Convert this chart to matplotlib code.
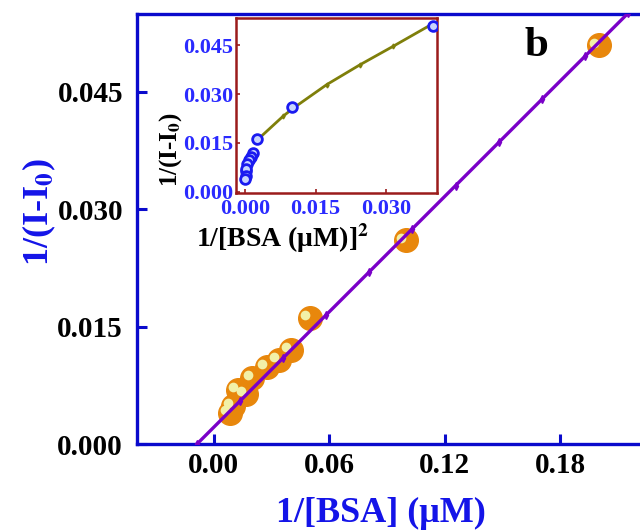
import numpy as np
import matplotlib
matplotlib.use("Agg")
import matplotlib.pyplot as plt
from matplotlib.transforms import offset_copy

plt.rcParams["font.family"] = ["Liberation Serif", "DejaVu Serif"]
plt.rcParams["font.weight"] = "bold"
plt.rcParams["mathtext.fontset"] = "stix"

# double reciprocal data: 1/[BSA] (uM^-1) vs 1/(I-I0)
inv_bsa = [0.200, 0.100, 0.050, 0.040, 0.034, 0.0275, 0.020, 0.0167, 0.0125, 0.010, 0.0083]
inv_dI = [0.0509, 0.0260, 0.0161, 0.0120, 0.0107, 0.0098, 0.0084, 0.0064, 0.0069, 0.0049, 0.0040]

# linear fit of the main plot
fit_slope = 0.2455
fit_intercept = 0.00216
fit_x_range = (-0.0088, 0.2152)

# smooth trend drawn through the inset (1/[BSA]^2 axis)
inset_curve_x = [0.0023, 0.0038, 0.0081, 0.0103, 0.0174, 0.0245, 0.0316, 0.0394]
inset_curve_y = [0.0153, 0.0175, 0.0232, 0.0257, 0.0329, 0.0390, 0.0447, 0.0511]

main_xticks = [0.00, 0.06, 0.12, 0.18]
main_yticks = [0.000, 0.015, 0.030, 0.045]
inset_xticks = [0.000, 0.015, 0.030]
inset_yticks = [0.000, 0.015, 0.030, 0.045]

BLUE_AX = "#0A0ACC"
LABEL_BLUE = "#1414E8"
ORANGE = "#E8870C"
HILITE = "#F2F0A8"
PURPLE = "#7A00C8"
OLIVE = "#7F7F0A"
MAROON = "#9B1B1B"

fig = plt.figure(figsize=(6.4, 5.32), dpi=100)
ax = fig.add_axes([0.214, 0.1654, 0.80, 0.8083])

x = np.array(inv_bsa)
y = np.array(inv_dI)

# orange balls with a pale highlight
ax.plot(x, y, "o", ms=17, mfc=ORANGE, mec=ORANGE, zorder=2)
hl = offset_copy(ax.transData, fig=fig, x=-3.5, y=2.0, units="points")
ax.plot(x, y, "o", ms=7, mfc=HILITE, mec="none", transform=hl, zorder=3)

xf = np.linspace(fit_x_range[0], fit_x_range[1], 11)
ax.plot(xf, fit_slope * xf + fit_intercept, "-", color=PURPLE, lw=2.4,
        marker="d", ms=4, zorder=4)

ax.set_xlim(-0.04, 0.2261)
ax.set_ylim(0, 0.0549)
ax.set_xticks(main_xticks)
ax.set_xticklabels([f"{v:.2f}" for v in main_xticks])
ax.set_yticks(main_yticks)
ax.set_yticklabels([f"{v:.3f}" for v in main_yticks])
ax.tick_params(direction="in", length=7, width=2.2, color=BLUE_AX,
               labelsize=21, pad=10)
ax.tick_params(axis="x", pad=6)
for s in ["left", "bottom", "top"]:
    ax.spines[s].set_color(BLUE_AX)
    ax.spines[s].set_linewidth(2.4)
ax.spines["right"].set_visible(False)

ax.set_xlabel("1/[BSA] (μM)", color=LABEL_BLUE, fontsize=26, fontweight="bold")
ax.xaxis.set_label_coords(0.476, -0.122)
ax.set_ylabel(r"1/(I-I$_\mathbf{0}$)", color=LABEL_BLUE, fontsize=26, fontweight="bold")
ax.yaxis.set_label_coords(-0.155, 0.54)

ax.text(0.78, 0.925, "b", transform=ax.transAxes, fontsize=31,
        fontweight="bold", ha="center", va="center")

# inset: same response against 1/[BSA]^2
ins = fig.add_axes([0.369, 0.637, 0.314, 0.329])
ins.plot(inset_curve_x, inset_curve_y, "-", color=OLIVE, lw=2,
         marker="d", ms=2.5, markevery=[2, 4, 5, 6], zorder=2)
ins.plot(x ** 2, y, "o", ms=7, mfc="#C8D4FF", mec="#1A1AF0", mew=2, zorder=3)
ins.set_xlim(-0.0019, 0.0409)
ins.set_ylim(-0.0004, 0.0533)
ins.set_xticks(inset_xticks)
ins.set_xticklabels([f"{v:.3f}" for v in inset_xticks])
ins.set_yticks(inset_yticks)
ins.set_yticklabels([f"{v:.3f}" for v in inset_yticks])
ins.tick_params(direction="in", length=3, width=1.2, color=MAROON,
                labelsize=16, labelcolor="#2A2AFF", pad=2)
ins.tick_params(axis="x", pad=4)
for s in ins.spines.values():
    s.set_color(MAROON)
    s.set_linewidth(1.8)
ins.set_xlabel(r"1/[BSA (μM)]$^{2}$", fontsize=20, fontweight="bold")
ins.xaxis.set_label_coords(0.23, -0.16)
ins.set_ylabel(r"1/(I-I$_\mathbf{0}$)", fontsize=18, fontweight="bold")
ins.yaxis.set_label_coords(-0.262, 0.25)

fig.savefig("out.png", dpi=100)
